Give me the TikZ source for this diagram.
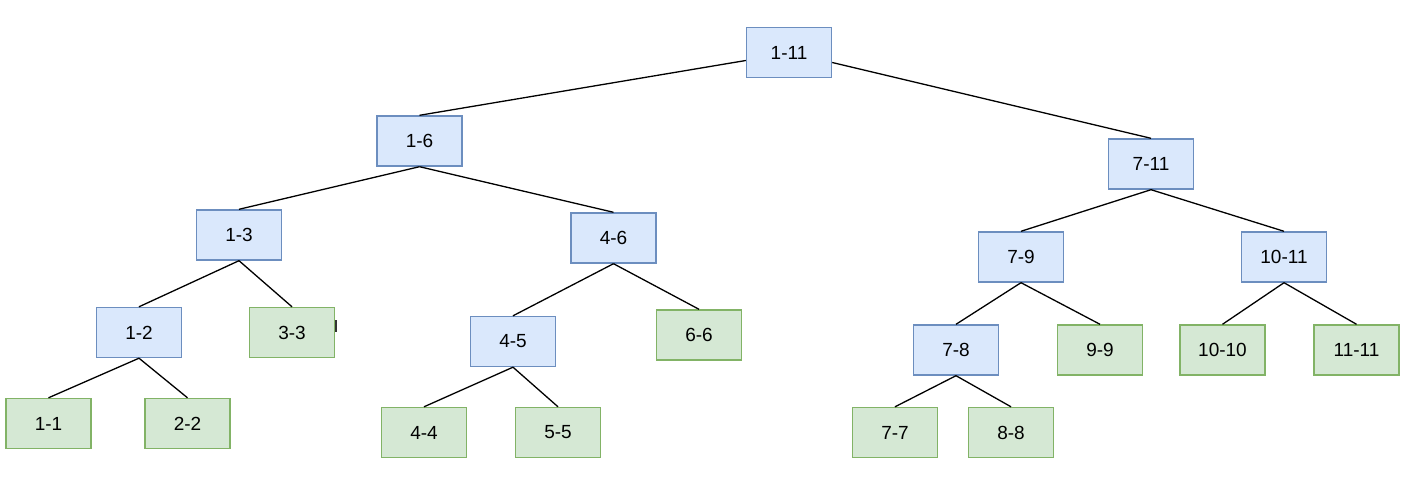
\documentclass[tikz,border=0pt]{standalone}
\usepackage{fontspec}
\setmainfont{Liberation Sans}
\definecolor{bfill}{HTML}{DAE8FC}
\definecolor{bdraw}{HTML}{6C8EBF}
\definecolor{gfill}{HTML}{D5E8D4}
\definecolor{gdraw}{HTML}{82B366}
\begin{document}
\begin{tikzpicture}[x=1pt,y=-1pt,
  box/.style={rectangle, line width=1.4pt, minimum width=85pt, minimum height=50pt, inner sep=0pt, font=\fontsize{19}{22}\selectfont},
  inner/.style={box, draw=bdraw, fill=bfill},
  leaf/.style={box, draw=gdraw, fill=gfill},
  edge/.style={draw=black, line width=1.3pt}]
\useasboundingbox (0,0) rectangle (1424,502);
\fill[white] (0,0) rectangle (1424,502);
\node[inner] (n111) at (789,52.5) {1-11};
\node[inner] (n16) at (419.5,141) {1-6};
\node[inner] (n711) at (1151,164) {7-11};
\node[inner] (n13) at (239,235) {1-3};
\node[inner] (n46) at (613.5,238) {4-6};
\node[inner] (n79) at (1021,257) {7-9};
\node[inner] (n1011) at (1284,257) {10-11};
\node[inner] (n12) at (139,332.5) {1-2};
\node[leaf] (n33) at (292,332.5) {3-3};
\node[inner] (n45) at (513,341.5) {4-5};
\node[leaf] (n66) at (699,335) {6-6};
\node[inner] (n78) at (956,350) {7-8};
\node[leaf] (n99) at (1100,350) {9-9};
\node[leaf] (n1010) at (1222.5,350) {10-10};
\node[leaf] (n1111) at (1356.5,350) {11-11};
\node[leaf] (n11) at (48.5,423.5) {1-1};
\node[leaf] (n22) at (187.5,423.5) {2-2};
\node[leaf] (n44) at (424,432.5) {4-4};
\node[leaf] (n55) at (558,432.5) {5-5};
\node[leaf] (n77) at (895,432.5) {7-7};
\node[leaf] (n88) at (1011,432.5) {8-8};
\fill[black!80] (334.5,320) rectangle (337,332);
\draw[edge] ([yshift=-8pt]n111.west) -- (n16.north);
\draw[edge] ([yshift=-10pt]n111.east) -- (n711.north);
\draw[edge] (n16.south) -- (n13.north);
\draw[edge] (n16.south) -- (n46.north);
\draw[edge] (n711.south) -- (n79.north);
\draw[edge] (n711.south) -- (n1011.north);
\draw[edge] (n13.south) -- (n12.north);
\draw[edge] (n13.south) -- (n33.north);
\draw[edge] (n46.south) -- (n45.north);
\draw[edge] (n46.south) -- (n66.north);
\draw[edge] (n79.south) -- (n78.north);
\draw[edge] (n79.south) -- (n99.north);
\draw[edge] (n1011.south) -- (n1010.north);
\draw[edge] (n1011.south) -- (n1111.north);
\draw[edge] (n12.south) -- (n11.north);
\draw[edge] (n12.south) -- (n22.north);
\draw[edge] (n45.south) -- (n44.north);
\draw[edge] (n45.south) -- (n55.north);
\draw[edge] (n78.south) -- (n77.north);
\draw[edge] (n78.south) -- (n88.north);
\end{tikzpicture}
\end{document}
